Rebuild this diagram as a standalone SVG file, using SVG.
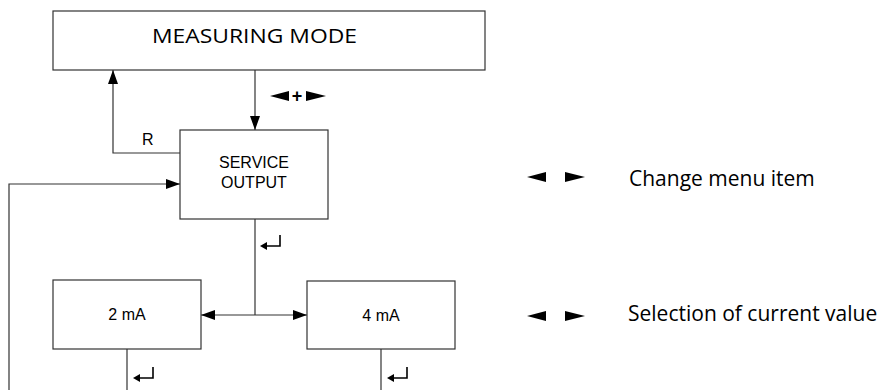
<svg xmlns="http://www.w3.org/2000/svg" width="878" height="390" viewBox="0 0 878 390">
<style>
.box{fill:#fff;stroke:#333;stroke-width:1.2}
.ln{fill:none;stroke:#333;stroke-width:1.2}
.t{font-family:"Liberation Sans",Arial,sans-serif;font-size:16px;fill:#000;text-anchor:middle}
.c{font-family:"Open Sans","Noto Sans",sans-serif;fill:#000}
.sym{font-family:"Liberation Sans",Arial,sans-serif;fill:#000}
.ret{fill:none;stroke:#000;stroke-width:1.6}
.tri{fill:#000}
</style>
<defs>
<marker id="ah" viewBox="0 0 14 10" refX="14" refY="5" markerWidth="14" markerHeight="10" markerUnits="userSpaceOnUse" orient="auto">
<path d="M0,0 L14,5 L0,10 Z" fill="#000"/>
</marker>
</defs>
<g id="connectors">
<path class="ln" d="M255,70 V130" marker-end="url(#ah)"/>
<path class="ln" d="M180,153 H113 V70" marker-end="url(#ah)"/>
<path class="ln" d="M9,390 V184 H180" marker-end="url(#ah)"/>
<path class="ln" d="M255,219 V315"/>
<path class="ln" d="M255,315 H201" marker-end="url(#ah)"/>
<path class="ln" d="M255,315 H307" marker-end="url(#ah)"/>
<path class="ln" d="M127,349 V390"/>
<path class="ln" d="M381,349 V390"/>
<polygon class="tri" points="270,96 289,91 289,101"/>
<text class="sym" x="297" y="102" font-size="18" font-weight="bold" text-anchor="middle">+</text>
<polygon class="tri" points="306,91 306,101 326,96"/>
<text class="sym" x="142" y="145" font-size="16">R</text>
<path class="ret" d="M280,235 V246 H265"/>
<path d="M260,246 L267,242 L267,250 Z" fill="#000"/>
<path class="ret" d="M153,367 V378 H138"/>
<path d="M133,378 L140,374 L140,382 Z" fill="#000"/>
<path class="ret" d="M407,367 V378 H392"/>
<path d="M387,378 L394,374 L394,382 Z" fill="#000"/>
</g>
<g id="measuring-mode">
<rect class="box" x="53" y="11" width="432" height="59"/>
<text class="c" x="152" y="43" font-size="19.5" textLength="205" lengthAdjust="spacingAndGlyphs">MEASURING MODE</text>
</g>
<g id="service-output">
<rect class="box" x="180" y="130" width="148" height="89"/>
<text class="t" x="254" y="168">SERVICE</text>
<text class="t" x="254" y="188">OUTPUT</text>
</g>
<g id="ma2">
<rect class="box" x="53" y="280" width="148" height="69"/>
<text class="t" x="127" y="320">2 mA</text>
</g>
<g id="ma4">
<rect class="box" x="307" y="281" width="148" height="68"/>
<text class="t" x="381" y="321">4 mA</text>
</g>
<g id="legend">
<polygon class="tri" points="527,177 546,172 546,182"/>
<polygon class="tri" points="565,172 565,182 585,177"/>
<text class="c" x="629" y="186" font-size="21">Change menu item</text>
<polygon class="tri" points="527,316 546,311 546,321"/>
<polygon class="tri" points="565,311 565,321 585,316"/>
<text class="c" x="628" y="321" font-size="21">Selection of current value</text>
</g>
</svg>
